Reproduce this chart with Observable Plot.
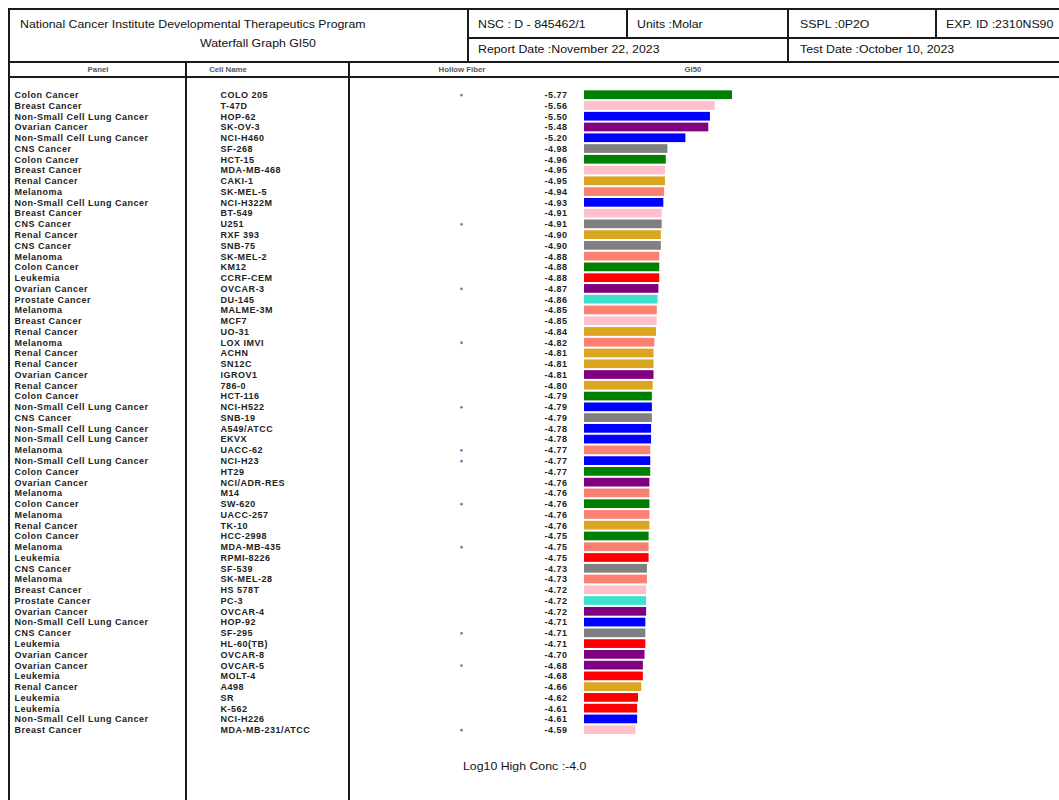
<!DOCTYPE html>
<html>
<head>
<meta charset="utf-8">
<script src="https://cdn.jsdelivr.net/npm/d3@7"></script>
<script src="https://cdn.jsdelivr.net/npm/@observablehq/plot@0.6"></script>
<style>
  html, body { margin: 0; padding: 0; background: #fff; }
  #page { position: relative; width: 1059px; height: 800px; overflow: hidden; background: #fff;
          font-family: "Liberation Sans", Arial, sans-serif; color: #111; }
  .ln { position: absolute; background: #1a1a1a; }
  .t { position: absolute; white-space: nowrap; font-size: 11px; line-height: 1;
       transform-origin: 0 50%; transform: translateY(-50%) scaleX(1.12); }
  .c { transform-origin: 50% 50%; transform: translate(-50%, -50%) scaleX(1.12); }
  .h { position: absolute; white-space: nowrap; font-size: 6.5px; font-weight: bold; color: #555; line-height: 1;
       transform: translate(-50%, -50%) scaleX(1.2); }
  #chart { position: absolute; left: 0; top: 0; }
  #chart text { letter-spacing: 0.5px; }
</style>
</head>
<body>
<div id="page">
  <div class="ln" style="left:8px;top:8px;width:1060px;height:2px"></div>
  <div class="ln" style="left:8px;top:8px;width:2px;height:800px"></div>
  <div class="ln" style="left:468px;top:37px;width:600px;height:1.5px"></div>
  <div class="ln" style="left:467px;top:8px;width:1.5px;height:54px"></div>
  <div class="ln" style="left:626px;top:8px;width:1.5px;height:29px"></div>
  <div class="ln" style="left:787px;top:8px;width:1.5px;height:54px"></div>
  <div class="ln" style="left:935px;top:8px;width:1.5px;height:29px"></div>
  <div class="ln" style="left:8px;top:61px;width:1060px;height:2px"></div>
  <div class="ln" style="left:8px;top:76px;width:1060px;height:2px"></div>
  <div class="ln" style="left:185px;top:62px;width:1.5px;height:740px"></div>
  <div class="ln" style="left:348px;top:62px;width:1.5px;height:740px"></div>

  <div class="t" style="left:20px;top:24px">National Cancer Institute Developmental Therapeutics Program</div>
  <div class="t c" style="left:258px;top:43px">Waterfall Graph GI50</div>
  <div class="t" style="left:478px;top:24px">NSC : D - 845462/1</div>
  <div class="t" style="left:637px;top:24px">Units :Molar</div>
  <div class="t" style="left:800px;top:24px">SSPL :0P2O</div>
  <div class="t" style="left:946px;top:24px">EXP. ID :2310NS90</div>
  <div class="t" style="left:478px;top:49px">Report Date :November 22, 2023</div>
  <div class="t" style="left:800px;top:49px">Test Date :October 10, 2023</div>

  <div class="h" style="left:98px;top:69.5px">Panel</div>
  <div class="h" style="left:228px;top:69.5px">Cell Name</div>
  <div class="h" style="left:462px;top:69.5px">Hollow Fiber</div>
  <div class="h" style="left:693px;top:69.5px">GI50</div>

  <div class="t" style="left:463px;top:766px">Log10 High Conc :-4.0</div>
  <div id="chart"></div>
</div>
<script>
const panels = ["Colon Cancer","Breast Cancer","Non-Small Cell Lung Cancer","Ovarian Cancer","Non-Small Cell Lung Cancer","CNS Cancer","Colon Cancer","Breast Cancer","Renal Cancer","Melanoma",
"Non-Small Cell Lung Cancer","Breast Cancer","CNS Cancer","Renal Cancer","CNS Cancer","Melanoma","Colon Cancer","Leukemia","Ovarian Cancer","Prostate Cancer",
"Melanoma","Breast Cancer","Renal Cancer","Melanoma","Renal Cancer","Renal Cancer","Ovarian Cancer","Renal Cancer","Colon Cancer","Non-Small Cell Lung Cancer",
"CNS Cancer","Non-Small Cell Lung Cancer","Non-Small Cell Lung Cancer","Melanoma","Non-Small Cell Lung Cancer","Colon Cancer","Ovarian Cancer","Melanoma","Colon Cancer","Melanoma",
"Renal Cancer","Colon Cancer","Melanoma","Leukemia","CNS Cancer","Melanoma","Breast Cancer","Prostate Cancer","Ovarian Cancer","Non-Small Cell Lung Cancer",
"CNS Cancer","Leukemia","Ovarian Cancer","Ovarian Cancer","Leukemia","Renal Cancer","Leukemia","Leukemia","Non-Small Cell Lung Cancer","Breast Cancer"];

const cellNames = ["COLO 205","T-47D","HOP-62","SK-OV-3","NCI-H460","SF-268","HCT-15","MDA-MB-468","CAKI-1","SK-MEL-5",
"NCI-H322M","BT-549","U251","RXF 393","SNB-75","SK-MEL-2","KM12","CCRF-CEM","OVCAR-3","DU-145",
"MALME-3M","MCF7","UO-31","LOX IMVI","ACHN","SN12C","IGROV1","786-0","HCT-116","NCI-H522",
"SNB-19","A549/ATCC","EKVX","UACC-62","NCI-H23","HT29","NCI/ADR-RES","M14","SW-620","UACC-257",
"TK-10","HCC-2998","MDA-MB-435","RPMI-8226","SF-539","SK-MEL-28","HS 578T","PC-3","OVCAR-4","HOP-92",
"SF-295","HL-60(TB)","OVCAR-8","OVCAR-5","MOLT-4","A498","SR","K-562","NCI-H226","MDA-MB-231/ATCC"];

const gi50 = [-5.77,-5.56,-5.50,-5.48,-5.20,-4.98,-4.96,-4.95,-4.95,-4.94,
-4.93,-4.91,-4.91,-4.90,-4.90,-4.88,-4.88,-4.88,-4.87,-4.86,
-4.85,-4.85,-4.84,-4.82,-4.81,-4.81,-4.81,-4.80,-4.79,-4.79,
-4.79,-4.78,-4.78,-4.77,-4.77,-4.77,-4.76,-4.76,-4.76,-4.76,
-4.76,-4.75,-4.75,-4.75,-4.73,-4.73,-4.72,-4.72,-4.72,-4.71,
-4.71,-4.71,-4.70,-4.68,-4.68,-4.66,-4.62,-4.61,-4.61,-4.59];

const hollowFiber = ["COLO 205","U251","OVCAR-3","LOX IMVI","NCI-H522","UACC-62","NCI-H23","SW-620","MDA-MB-435","SF-295","OVCAR-5","MDA-MB-231/ATCC"];

const panelNames = ["Colon Cancer","Breast Cancer","Non-Small Cell Lung Cancer","Ovarian Cancer","CNS Cancer","Renal Cancer","Melanoma","Leukemia","Prostate Cancer"];
const panelColors = ["green","pink","blue","purple","gray","goldenrod","salmon","red","turquoise"];

const barBase = -3.96;

const rows = cellNames.map((c, i) => ({cell: c, panel: panels[i], gi50: gi50[i], hf: hollowFiber.includes(c)}));

const font = "'Liberation Sans', Arial, sans-serif";
const chart = Plot.plot({
  width: 1059, height: 800,
  marginLeft: 0, marginRight: 0, marginTop: 0, marginBottom: 0,
  style: {fontFamily: font, background: "transparent"},
  x: {domain: [barBase, -5.77], range: [584, 732], axis: null},
  y: {type: "band", domain: cellNames, range: [88.3, 736.1], padding: 0.19, axis: null},
  color: {domain: panelNames, range: panelColors},
  marks: [
    Plot.barX(rows, {y: "cell", x1: () => barBase, x2: "gi50", fill: "panel"}),
    Plot.text(rows, {y: "cell", text: "panel", frameAnchor: "left", dx: 14, textAnchor: "start",
      fontSize: 9, fontWeight: "bold", fill: "#222"}),
    Plot.text(rows, {y: "cell", text: "cell", frameAnchor: "left", dx: 220, textAnchor: "start",
      fontSize: 9, fontWeight: "bold", fill: "#222"}),
    Plot.text(rows, {y: "cell", text: d => d.gi50.toFixed(2), frameAnchor: "left", dx: 567, textAnchor: "end",
      fontSize: 9, fontWeight: "bold", fill: "#222"}),
    Plot.dot(rows.filter(d => d.hf), {y: "cell", frameAnchor: "left", dx: 461, r: 1.4, fill: "#7585a5", stroke: "none"})
  ]
});
document.getElementById("chart").appendChild(chart);
</script>
</body>
</html>
